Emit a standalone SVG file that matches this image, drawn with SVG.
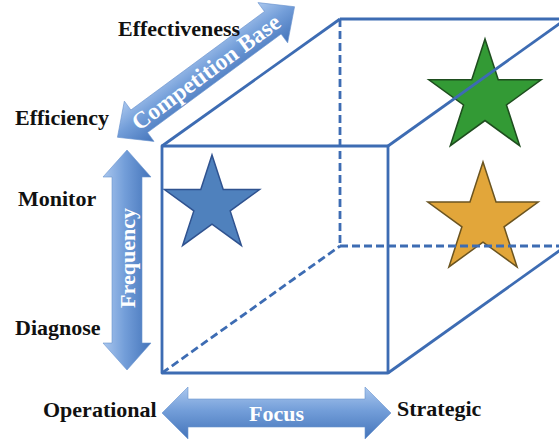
<svg xmlns="http://www.w3.org/2000/svg" xmlns:xlink="http://www.w3.org/1999/xlink" width="559" height="439" viewBox="0 0 559 439">
<style>
.lbl{font-family:"Liberation Serif","Times New Roman",serif;font-weight:bold;font-size:22px;fill:#111}
.atx{font-family:"Liberation Serif","Times New Roman",serif;font-weight:bold;font-size:22px;fill:#fff;text-anchor:middle}
.edge{fill:none;stroke:#3d6cb3;stroke-width:2.8;stroke-linejoin:round}
.dash{fill:none;stroke:#3d6cb3;stroke-width:2.8;stroke-dasharray:8 4}
.arrow{fill:url(#ag);stroke:#6a93cf;stroke-width:0.6}
</style>
<defs>
<linearGradient id="ag" x1="0" y1="0" x2="0" y2="1">
<stop offset="0" stop-color="#aac7ee"/>
<stop offset="0.45" stop-color="#739ed9"/>
<stop offset="1" stop-color="#4474ba"/>
</linearGradient>
<polygon id="star" points="0,-50 11.23,-15.45 47.55,-15.45 18.17,5.9 29.39,40.45 0,19.1 -29.39,40.45 -18.17,5.9 -47.55,-15.45 -11.23,-15.45"/>
</defs>
<rect width="559" height="439" fill="#fff"/>
<g id="stars">
<use id="star-blue" xlink:href="#star" transform="translate(212,205)" fill="#4f81bd" stroke="#2f528f" stroke-width="1.5"/>
<use id="star-green" xlink:href="#star" transform="translate(485,98) scale(1.18)" fill="#339a35" stroke="#1e4d1e" stroke-width="1.3"/>
<use id="star-gold" xlink:href="#star" transform="translate(483,220) scale(1.16)" fill="#e2a63a" stroke="#6b5420" stroke-width="1.3"/>
</g>
<g id="cube">
<line class="dash" x1="340" y1="19" x2="340" y2="246"/>
<line class="dash" x1="340" y1="246" x2="559" y2="246"/>
<line class="dash" x1="162" y1="373" x2="340" y2="246"/>
<line class="edge" x1="340" y1="19" x2="559" y2="19"/>
<line class="edge" x1="162" y1="146" x2="340" y2="19"/>
<line class="edge" x1="388" y1="146" x2="566" y2="19"/>
<line class="edge" x1="388" y1="373" x2="566" y2="246"/>
<rect class="edge" x="162" y="146" width="226" height="227"/>
</g>
<g id="arrow-competition" transform="translate(206,72) rotate(-36.4)">
<path class="arrow" d="M-110,0 L-83,-25 L-83,-14 L83,-14 L83,-25 L110,0 L83,25 L83,14 L-83,14 L-83,25 Z"/>
<text class="atx" x="0" y="8" style="font-size:23.5px">Competition Base</text>
</g>
<g id="arrow-frequency" transform="translate(127,260) rotate(-90)">
<path class="arrow" d="M-110,0 L-83,-24 L-83,-15 L83,-15 L83,-24 L110,0 L83,24 L83,15 L-83,15 L-83,24 Z"/>
<text class="atx" x="2" y="7.5">Frequency</text>
</g>
<g id="arrow-focus" transform="translate(276.5,413)">
<path class="arrow" d="M-114.5,0 L-88.5,-26 L-88.5,-14 L88.5,-14 L88.5,-26 L114.5,0 L88.5,26 L88.5,14 L-88.5,14 L-88.5,26 Z"/>
<text class="atx" x="0" y="7.5">Focus</text>
</g>
<g id="labels">
<text class="lbl" x="118" y="36">Effectiveness</text>
<text class="lbl" x="15" y="125">Efficiency</text>
<text class="lbl" x="18" y="206">Monitor</text>
<text class="lbl" x="15" y="335">Diagnose</text>
<text class="lbl" x="43" y="417">Operational</text>
<text class="lbl" x="397" y="416">Strategic</text>
</g>
</svg>
